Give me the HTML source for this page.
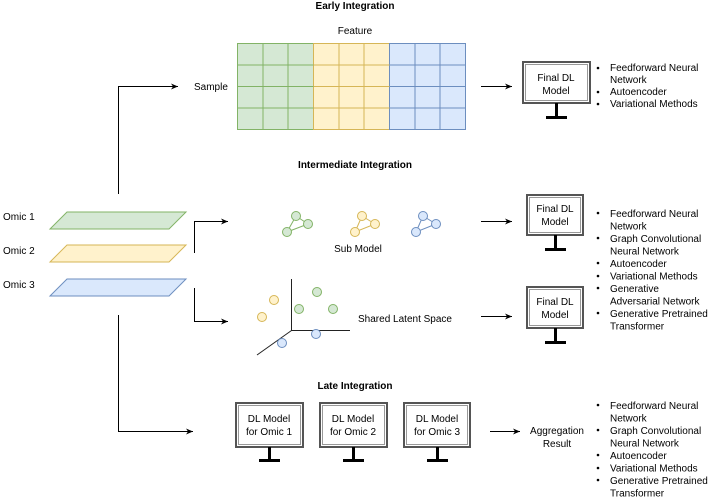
<!DOCTYPE html>
<html><head><meta charset="utf-8"><style>
html,body{margin:0;padding:0;background:#fff;}
svg{display:block;font-family:"Liberation Sans",Arial,sans-serif;font-size:10px;}
</style></head><body>
<svg width="709" height="497" viewBox="0 0 709 497" xmlns="http://www.w3.org/2000/svg">
<defs>
<marker id="a" markerWidth="8" markerHeight="8" refX="7" refY="4" orient="auto" markerUnits="userSpaceOnUse"><path d="M0,1 L7,4 L0,7 L2,4 Z" fill="#000"/></marker>
</defs>
<g text-anchor="middle">
<text x="355" y="9" font-weight="bold">Early Integration</text>
<text x="355" y="34">Feature</text>
<text x="355" y="168" font-weight="bold">Intermediate Integration</text>
<text x="355" y="389" font-weight="bold">Late Integration</text>
<text x="358" y="252">Sub Model</text>
<text x="405" y="322">Shared Latent Space</text>
<text x="557" y="434">Aggregation</text>
<text x="557" y="447">Result</text>
</g>
<text x="194" y="90">Sample</text>
<!-- grid -->
<g stroke-width="1">
<rect x="237.5" y="43.5" width="76" height="86" fill="#d5e8d4" stroke="#82b366"/>
<rect x="313.5" y="43.5" width="76" height="86" fill="#fff2cc" stroke="#d6b656"/>
<rect x="389.5" y="43.5" width="76" height="86" fill="#dae8fc" stroke="#6c8ebf"/>
<path d="M263 43.5V129.5M288 43.5V129.5M237.5 65H313.5M237.5 86.5H313.5M237.5 108H313.5" stroke="#82b366"/>
<path d="M339 43.5V129.5M364 43.5V129.5M313.5 65H389.5M313.5 86.5H389.5M313.5 108H389.5" stroke="#d6b656"/>
<path d="M415 43.5V129.5M440 43.5V129.5M389.5 65H465.5M389.5 86.5H465.5M389.5 108H465.5" stroke="#6c8ebf"/>
</g>
<!-- omics -->
<text x="3" y="220">Omic 1</text>
<text x="3" y="254">Omic 2</text>
<text x="3" y="288">Omic 3</text>
<polygon points="67,212 186,212 169,229 50,229" fill="#d5e8d4" stroke="#82b366"/>
<polygon points="67,245 186,245 169,262 50,262" fill="#fff2cc" stroke="#d6b656"/>
<polygon points="67,279 186,279 169,296 50,296" fill="#dae8fc" stroke="#6c8ebf"/>
<!-- connectors -->
<g fill="none" stroke="#000" stroke-width="1">
<path d="M118.5 194V86.5H178" marker-end="url(#a)"/>
<path d="M194.5 253V221.5H228" marker-end="url(#a)"/>
<path d="M194.5 288V321.5H228" marker-end="url(#a)"/>
<path d="M118.5 315V431.5H193" marker-end="url(#a)"/>
<path d="M481 86.5H512" marker-end="url(#a)"/>
<path d="M481 221.5H512" marker-end="url(#a)"/>
<path d="M481 316.5H512" marker-end="url(#a)"/>
<path d="M490 431.5H520" marker-end="url(#a)"/>
<path d="M291.5 279V330.5H350M291.5 330.5L257 355" stroke="#222"/>
</g>
<!-- graphs -->
<g stroke-width="1">
<path d="M296 216L308 224L287 232Z" fill="none" stroke="#82b366"/>
<circle cx="296" cy="216" r="4.5" fill="#d5e8d4" stroke="#82b366"/><circle cx="308" cy="224" r="4.5" fill="#d5e8d4" stroke="#82b366"/><circle cx="287" cy="232" r="4.5" fill="#d5e8d4" stroke="#82b366"/>
<path d="M362 216L375 224L355 232Z" fill="none" stroke="#d6b656"/>
<circle cx="362" cy="216" r="4.5" fill="#fff2cc" stroke="#d6b656"/><circle cx="375" cy="224" r="4.5" fill="#fff2cc" stroke="#d6b656"/><circle cx="355" cy="232" r="4.5" fill="#fff2cc" stroke="#d6b656"/>
<path d="M423 216L436 224L416 232Z" fill="none" stroke="#6c8ebf"/>
<circle cx="423" cy="216" r="4.5" fill="#dae8fc" stroke="#6c8ebf"/><circle cx="436" cy="224" r="4.5" fill="#dae8fc" stroke="#6c8ebf"/><circle cx="416" cy="232" r="4.5" fill="#dae8fc" stroke="#6c8ebf"/>
<circle cx="274" cy="300" r="4.5" fill="#fff2cc" stroke="#d6b656"/><circle cx="262" cy="317" r="4.5" fill="#fff2cc" stroke="#d6b656"/>
<circle cx="317" cy="292" r="4.5" fill="#d5e8d4" stroke="#82b366"/><circle cx="299" cy="309" r="4.5" fill="#d5e8d4" stroke="#82b366"/><circle cx="333" cy="309" r="4.5" fill="#d5e8d4" stroke="#82b366"/>
<circle cx="282" cy="343" r="4.5" fill="#dae8fc" stroke="#6c8ebf"/><circle cx="316" cy="334" r="4.5" fill="#dae8fc" stroke="#6c8ebf"/>
</g>
<!-- monitors -->
<g fill="#fff">
<rect x="523" y="62" width="67" height="41" stroke="#555" stroke-width="2"/><rect x="525.5" y="64.5" width="62" height="36" fill="none" stroke="#999" stroke-width="1"/>
<rect x="527" y="195" width="56" height="40" stroke="#555" stroke-width="2"/><rect x="529.5" y="197.5" width="51" height="35" fill="none" stroke="#999" stroke-width="1"/>
<rect x="527" y="287" width="56" height="41" stroke="#555" stroke-width="2"/><rect x="529.5" y="289.5" width="51" height="36" fill="none" stroke="#999" stroke-width="1"/>
<rect x="236" y="403" width="67" height="44" stroke="#555" stroke-width="2"/><rect x="238.5" y="405.5" width="62" height="39" fill="none" stroke="#999" stroke-width="1"/>
<rect x="320" y="403" width="67" height="44" stroke="#555" stroke-width="2"/><rect x="322.5" y="405.5" width="62" height="39" fill="none" stroke="#999" stroke-width="1"/>
<rect x="404" y="403" width="66" height="44" stroke="#555" stroke-width="2"/><rect x="406.5" y="405.5" width="61" height="39" fill="none" stroke="#999" stroke-width="1"/>
</g>
<g fill="#000">
<rect x="555" y="103" width="3" height="14"/><rect x="546" y="116" width="21" height="3"/>
<rect x="554" y="235" width="3" height="14"/><rect x="545" y="248" width="21" height="3"/>
<rect x="554" y="328" width="3" height="14"/><rect x="545" y="341" width="21" height="3"/>
<rect x="268" y="447" width="3" height="13"/><rect x="259" y="459" width="21" height="3"/>
<rect x="352" y="447" width="3" height="13"/><rect x="343" y="459" width="21" height="3"/>
<rect x="436" y="447" width="3" height="13"/><rect x="427" y="459" width="21" height="3"/>
</g>
<g text-anchor="middle">
<text x="556" y="81">Final DL</text><text x="556" y="94">Model</text>
<text x="555" y="212">Final DL</text><text x="555" y="225">Model</text>
<text x="555" y="305">Final DL</text><text x="555" y="318">Model</text>
<text x="269" y="422">DL Model</text><text x="269" y="435">for Omic 1</text>
<text x="353" y="422">DL Model</text><text x="353" y="435">for Omic 2</text>
<text x="437" y="422">DL Model</text><text x="437" y="435">for Omic 3</text>
</g>
<!-- bullet lists -->
<g>
<text x="610" y="71">Feedforward Neural</text><text x="610" y="83">Network</text><text x="610" y="95">Autoencoder</text><text x="610" y="107">Variational Methods</text>
<circle cx="598" cy="68" r="1.3"/><circle cx="598" cy="92" r="1.3"/><circle cx="598" cy="104" r="1.3"/>
<text x="610" y="217">Feedforward Neural</text><text x="610" y="229.5">Network</text><text x="610" y="242">Graph Convolutional</text><text x="610" y="254.5">Neural Network</text><text x="610" y="267">Autoencoder</text><text x="610" y="279.5">Variational Methods</text><text x="610" y="292">Generative</text><text x="610" y="304.5">Adversarial Network</text><text x="610" y="317">Generative Pretrained</text><text x="610" y="329.5">Transformer</text>
<circle cx="598" cy="213" r="1.3"/><circle cx="598" cy="238" r="1.3"/><circle cx="598" cy="263" r="1.3"/><circle cx="598" cy="276" r="1.3"/><circle cx="598" cy="288" r="1.3"/><circle cx="598" cy="313" r="1.3"/>
<text x="610" y="409">Feedforward Neural</text><text x="610" y="421.5">Network</text><text x="610" y="434">Graph Convolutional</text><text x="610" y="446.5">Neural Network</text><text x="610" y="459">Autoencoder</text><text x="610" y="471.5">Variational Methods</text><text x="610" y="484">Generative Pretrained</text><text x="610" y="496.5">Transformer</text>
<circle cx="598" cy="405" r="1.3"/><circle cx="598" cy="430" r="1.3"/><circle cx="598" cy="455" r="1.3"/><circle cx="598" cy="468" r="1.3"/><circle cx="598" cy="480" r="1.3"/>
</g>
</svg>
</body></html>
